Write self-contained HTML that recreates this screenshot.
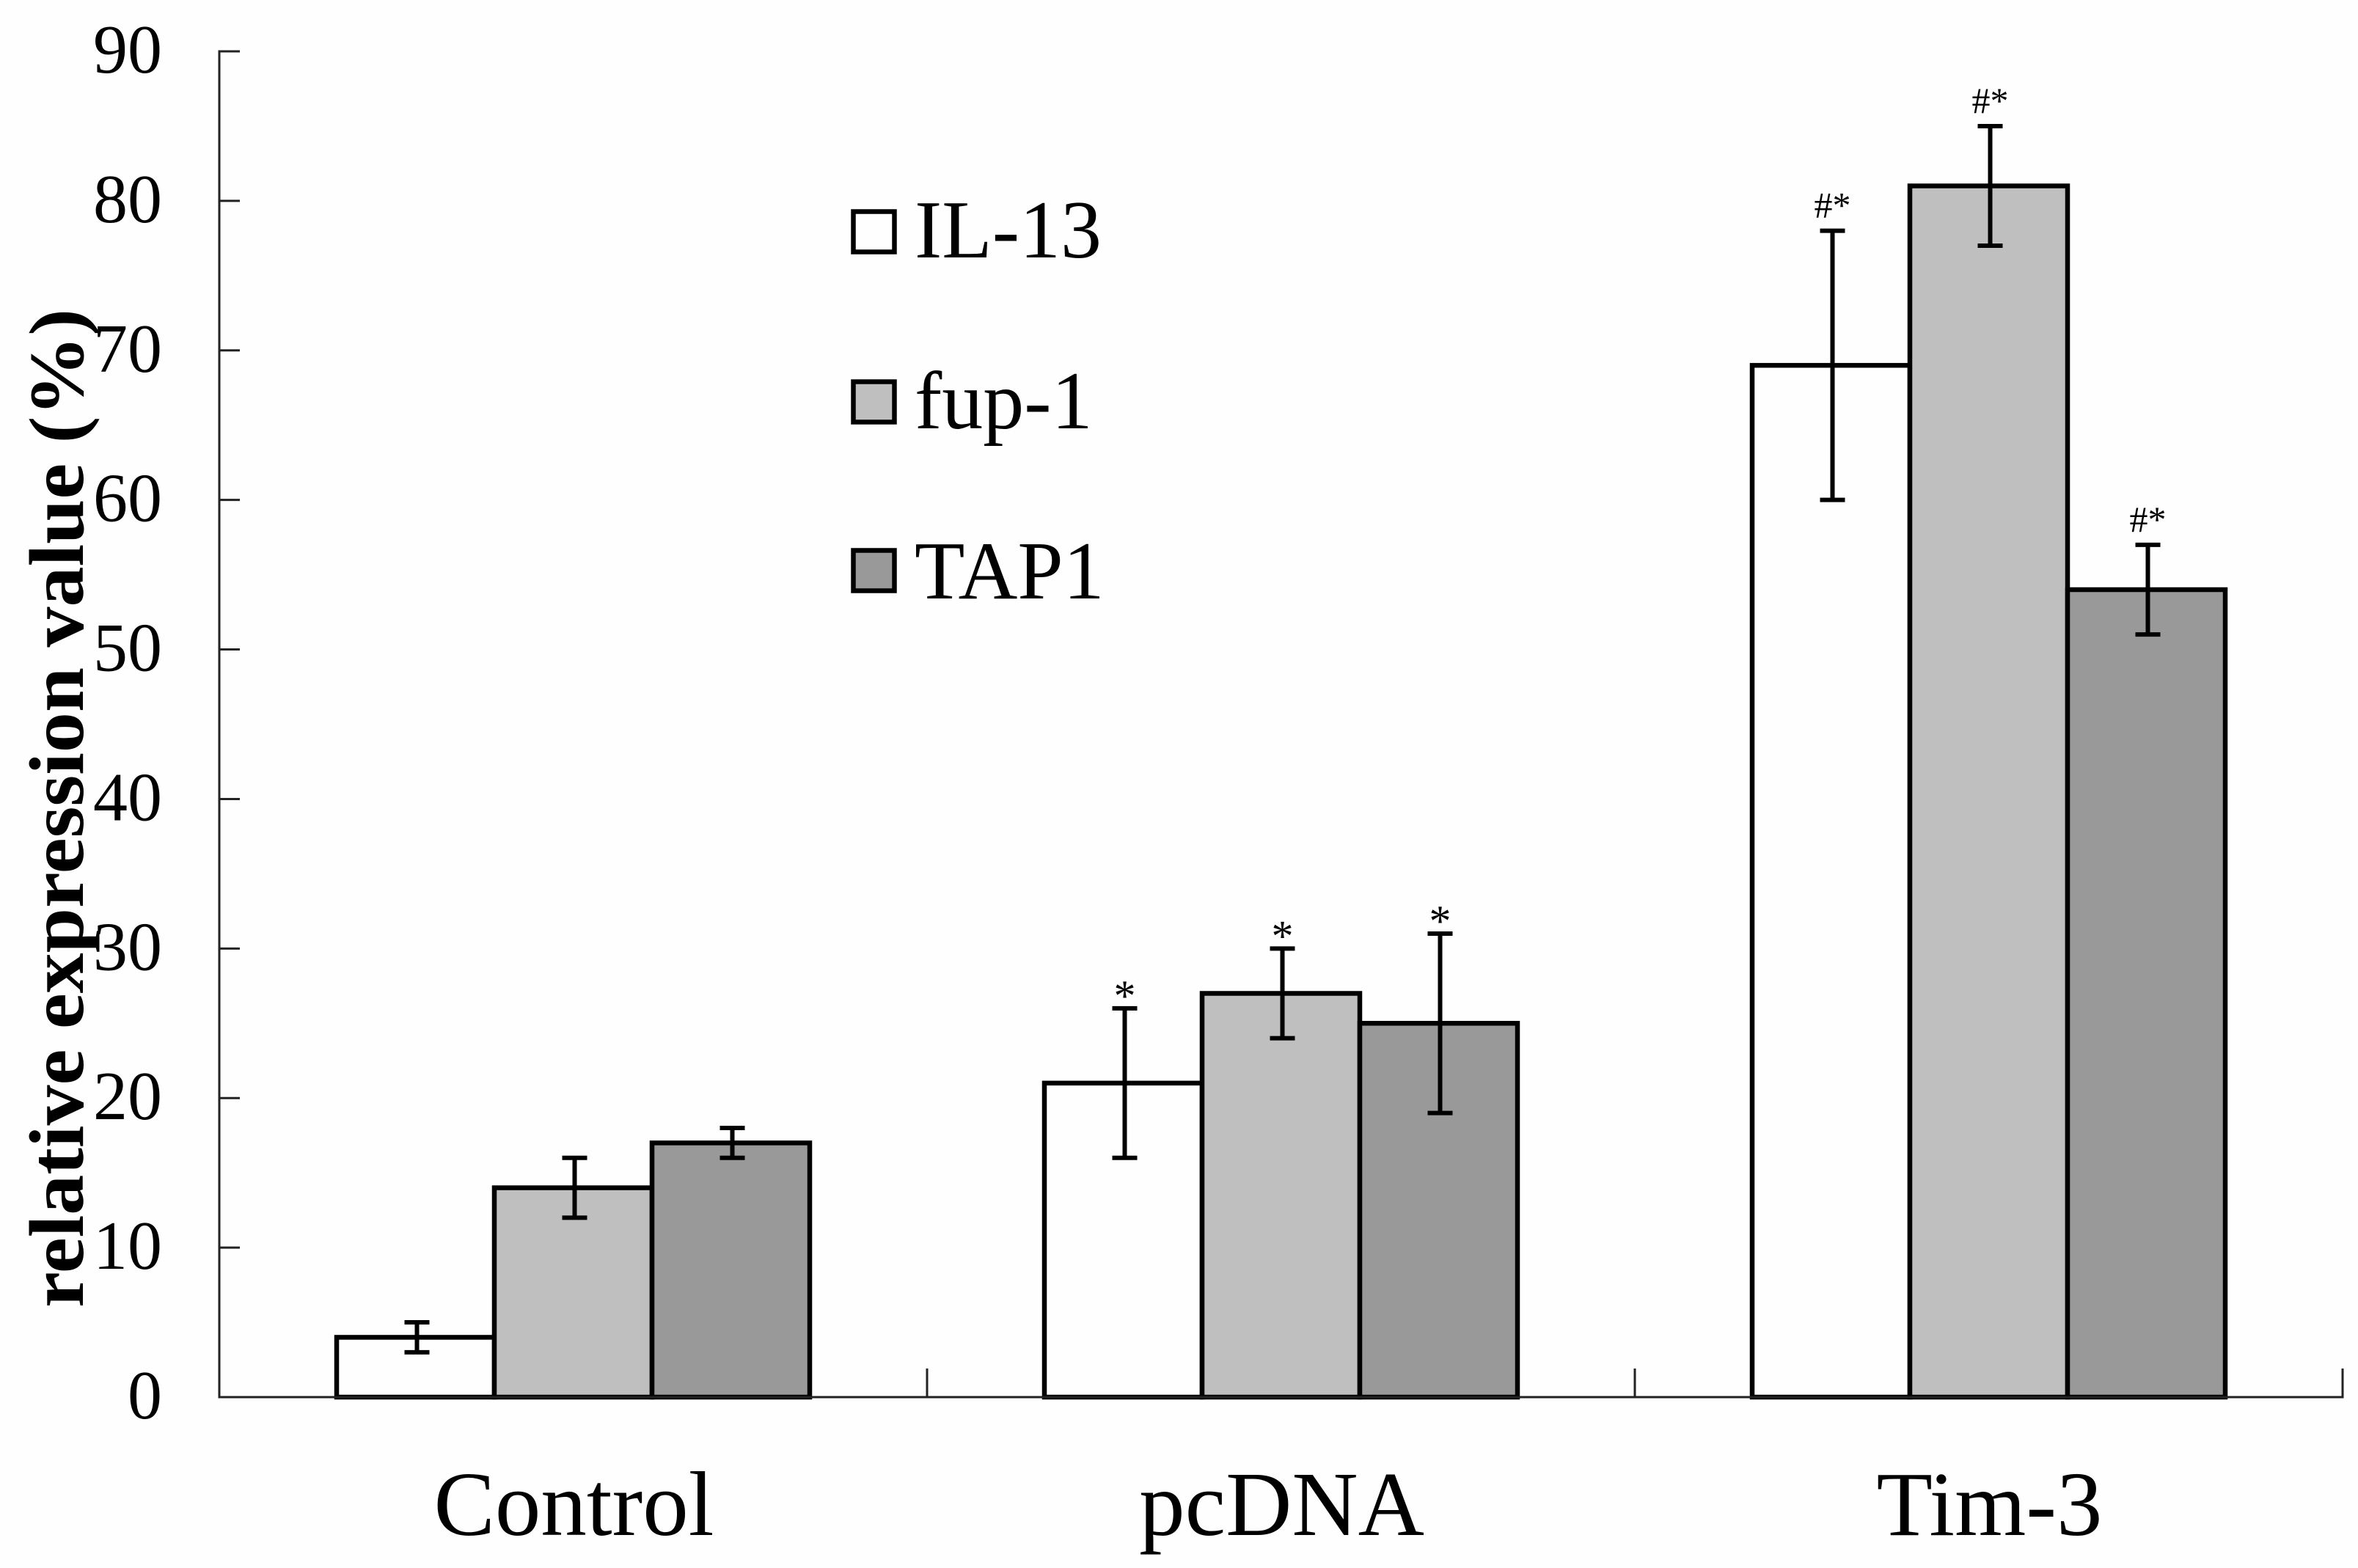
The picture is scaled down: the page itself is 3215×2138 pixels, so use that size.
<!DOCTYPE html>
<html lang="en">
<head>
<meta charset="utf-8">
<title>Relative expression value chart</title>
<style>
  html, body { margin: 0; padding: 0; background: #fefefe; }
  svg { display: block; }
  text { font-family: "Liberation Serif", "Times New Roman", serif; fill: #000; }
</style>
</head>
<body>
<svg id="chart" xmlns="http://www.w3.org/2000/svg" width="3215" height="2138" viewBox="0 0 3215 2138">
  <rect x="0" y="0" width="3215" height="2138" fill="#fefefe"/>
  <text transform="translate(113,1783) rotate(-90)" font-size="106" font-weight="bold" textLength="1362" lengthAdjust="spacingAndGlyphs">relative expression value (%)</text>
  <g id="plot"></g>
  <g>
    <g>
      <rect x="1163.5" y="288.5" width="56" height="55" fill="#fefefe" stroke="#000" stroke-width="6.5"/>
      <text x="1247" y="351" font-size="112">IL-13</text>
    </g>
    <g>
      <rect x="1163.5" y="520.5" width="56" height="55" fill="#bfbfbf" stroke="#000" stroke-width="6.5"/>
      <text x="1247" y="584" font-size="112">fup-1</text>
    </g>
    <g>
      <rect x="1163.5" y="750.5" width="56" height="55" fill="#999999" stroke="#000" stroke-width="6.5"/>
      <text x="1247" y="816" font-size="112">TAP1</text>
    </g>
  </g>
</svg>
<script>
const categories = ["Control", "pcDNA", "Tim-3"];
const seriesNames = ["IL-13", "fup-1", "TAP1"];
const seriesSlugs = ["il-13", "fup-1", "tap1"];
const il13Values = [4, 21, 69];
const fup1Values = [14, 27, 81];
const tap1Values = [17, 25, 54];
const il13High = [5, 26, 78];
const il13Low = [3, 16, 60];
const fup1High = [16, 30, 85];
const fup1Low = [12, 24, 77];
const tap1High = [18, 31, 57];
const tap1Low = [16, 19, 51];
const il13Marks = ["", "*", "#*"];
const fup1Marks = ["", "*", "#*"];
const tap1Marks = ["", "*", "#*"];
const yTickLabels = [0, 10, 20, 30, 40, 50, 60, 70, 80, 90];

const allValues = [il13Values, fup1Values, tap1Values];
const allHigh = [il13High, fup1High, tap1High];
const allLow = [il13Low, fup1Low, tap1Low];
const allMarks = [il13Marks, fup1Marks, tap1Marks];
const fills = ["#fefefe", "#bfbfbf", "#999999"];

const NS = "http://www.w3.org/2000/svg";
const plot = document.getElementById("plot");
const originX = 299, plotRight = 3194, baseY = 1905, topY = 70;
const yMax = 90;
const groupWidth = (plotRight - originX) / categories.length;
const barWidth = 215;

function y(v) { return baseY - (v / yMax) * (baseY - topY); }
function groupCenter(i) { return originX + groupWidth * (i + 0.5); }
function barLeft(i, s) { return groupCenter(i) + (s - allValues.length / 2) * barWidth; }

function make(tag, attrs, parent) {
  const el = document.createElementNS(NS, tag);
  for (const k in attrs) el.setAttribute(k, attrs[k]);
  parent.appendChild(el);
  return el;
}
function line(x1, y1, x2, y2, width, color, parent) {
  return make("line", { x1: x1, y1: y1, x2: x2, y2: y2, stroke: color, "stroke-width": width }, parent);
}

// Bars
categories.forEach(function (cat, i) {
  allValues.forEach(function (vals, s) {
    const top = y(vals[i]);
    const bar = make("rect", {
      x: barLeft(i, s), y: top, width: barWidth, height: baseY - top,
      fill: fills[s], stroke: "#000", "stroke-width": 6.5, "stroke-linejoin": "miter"
    }, plot);
    
    
  });
});

// Axes
const yAxis = line(originX, topY - 1.5, originX, baseY + 1.5, 3, "#222", plot);


const xAxis = line(originX, baseY, plotRight + 1.5, baseY, 3, "#222", plot);



// Y ticks and labels
yTickLabels.forEach(function (t) {
  const tick = line(originX, y(t), originX + 28, y(t), 3, "#222", plot);
  
  
  const label = make("text", { x: 221, y: y(t) + 29, "font-size": 94, "text-anchor": "end" }, plot);
  label.textContent = String(t);
  
  
});

// X ticks and category labels
categories.forEach(function (cat, i) {
  const tx = originX + groupWidth * (i + 1);
  const tick = line(tx, baseY, tx, baseY - 39, 3, "#222", plot);
  
  
  const label = make("text", { x: groupCenter(i) + 1, y: 2093, "font-size": 125, "text-anchor": "middle" }, plot);
  label.textContent = cat;
  
  
});

// Error bars and significance marks
const capHalf = 17;
const errOffset = 2;
categories.forEach(function (cat, i) {
  allValues.forEach(function (vals, s) {
    const cx = barLeft(i, s) + barWidth / 2 + errOffset;
    const hi = y(allHigh[s][i]);
    const lo = y(allLow[s][i]);
    const name = cat.toLowerCase() + '-' + seriesSlugs[s];
    const stem = line(cx, hi, cx, lo, 6, "#000", plot);
    
    
    const capTop = line(cx - capHalf, hi, cx + capHalf, hi, 6, "#000", plot);
    
    
    const capBottom = line(cx - capHalf, lo, cx + capHalf, lo, 6, "#000", plot);
    
    
    const mark = allMarks[s][i];
    if (mark) {
      const isHash = mark.indexOf("#") >= 0;
      const t = make("text", {
        x: cx,
        y: isHash ? hi - 18 : hi + 3,
        "font-size": isHash ? 50 : 60,
        "text-anchor": "middle"
      }, plot);
      t.textContent = mark;
      
      
    }
  });
});
</script>
</body>
</html>
